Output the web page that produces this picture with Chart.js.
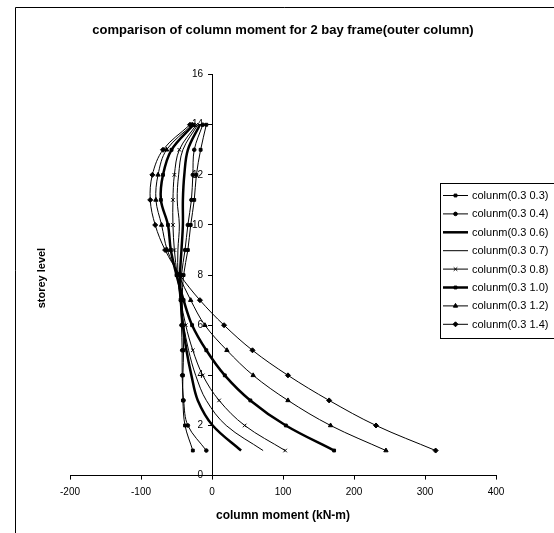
<!DOCTYPE html>
<html><head><meta charset="utf-8">
<script src="https://cdn.jsdelivr.net/npm/chart.js@4.4.1/dist/chart.umd.min.js"></script>
<style>html,body{margin:0;padding:0;background:#fff;}#wrap{position:relative;width:554px;height:533px;}</style>
</head><body><div id="wrap"><canvas id="c" width="554" height="533"></canvas></div>
<script>
const chartTitle = 'comparison of column moment for 2 bay frame(outer column)';
const xTitle = 'column moment (kN-m)';
const yTitle = 'storey level';
const levels = [1,2,3,4,5,6,7,8,9,10,11,12,13,14];
const seriesNames = ['colunm(0.3 0.3)','colunm(0.3 0.4)','colunm(0.3 0.6)','colunm(0.3 0.7)','colunm(0.3 0.8)','colunm(0.3 1.0)','colunm(0.3 1.2)','colunm(0.3 1.4)'];
const s03 = [-27,-38,-41,-41,-40,-41,-42,-40,-34,-30,-25,-22,-16,-8];
const s04 = [-8,-34,-40,-42,-42,-43,-44,-43,-38,-34,-29,-27,-25,-13];
const s06 = [41,1,-20,-29,-36,-41,-44,-45,-43,-41,-41,-39,-34,-17];
const s07 = [72,20,-8,-23,-33,-40,-45,-48,-48,-46,-49,-47,-41,-20];
const s08 = [103,46,10,-13,-27,-37,-44,-49,-53,-55,-55,-53,-46,-22];
const s10 = [172,104,54,18,-8,-28,-40,-50,-58,-62,-72,-69,-57,-26];
const s12 = [245,167,107,58,21,-10,-30,-47,-63,-71,-79,-76,-64,-28];
const s14 = [315,231,165,107,57,17,-17,-45,-66,-80,-87,-84,-69,-31];
const xTicks = [-200,-100,0,100,200,300,400];
const yTicks = [0,2,4,6,8,10,12,14,16];

const seriesValues = [s03,s04,s06,s07,s08,s10,s12,s14];
const styles = [
  {w:1, ps:'rect', r:2},
  {w:1, ps:'circle', r:1.8},
  {w:2.5, ps:'circle', r:0},
  {w:1, ps:'circle', r:0},
  {w:1, ps:'crossRot', r:2.5},
  {w:2.5, ps:'rect', r:2},
  {w:1, ps:'triangle', r:2.5},
  {w:1, ps:'rectRot', r:2.5}
];
Chart.defaults.font.family = 'Arial, "Liberation Sans", sans-serif';
Chart.defaults.color = '#000';

const datasets = seriesValues.map((vals,i)=>({
  label: seriesNames[i],
  data: vals.map((v,j)=>({x:v, y:levels[j]})),
  showLine: true,
  borderColor:'#000', backgroundColor:'#000',
  borderWidth: styles[i].w,
  pointStyle: styles[i].ps,
  pointRadius: styles[i].r,
  pointBorderWidth: 1,
  tension: 0.35
}));

const framePlugin = {
  id:'frame',
  beforeDraw(chart){
    const ctx = chart.ctx; ctx.save();
    ctx.fillStyle='#fff'; ctx.fillRect(0,0,chart.width,chart.height);
    ctx.strokeStyle='#000'; ctx.lineWidth=1;
    ctx.beginPath(); ctx.moveTo(15.5,533); ctx.lineTo(15.5,7.5); ctx.lineTo(554,7.5); ctx.stroke();
    ctx.restore();
    const ys = chart.scales.y;
    const items = ys.getLabelItems(chart.chartArea);
    if (!items._shifted) {
      items.forEach(it => { it.options.translation[0] -= 9; });
      items._shifted = true;
    }
  },
  afterDraw(chart){
    const ctx = chart.ctx; ctx.save();
    const ca = chart.chartArea;
    ctx.font = 'bold 11px Arial, "Liberation Sans", sans-serif';
    ctx.fillStyle='#000'; ctx.textAlign='center'; ctx.textBaseline='middle';
    ctx.translate(41.5,(ca.top+ca.bottom)/2+3); ctx.rotate(-Math.PI/2);
    ctx.fillText(yTitle,0,0);
    ctx.restore();
    ctx.save();
    ctx.fillStyle='#fff'; ctx.fillRect(440.5,183.5,130,155);
    ctx.strokeStyle='#000'; ctx.lineWidth=1; ctx.strokeRect(440.5,183.5,130,155);
    chart.data.datasets.forEach((ds,i)=>{
      const y = 195.5 + i*18.4;
      ctx.beginPath(); ctx.lineWidth=ds.borderWidth; ctx.strokeStyle='#000';
      ctx.moveTo(443,y); ctx.lineTo(468,y); ctx.stroke();
      if (ds.pointRadius>0){
        ctx.fillStyle='#000'; ctx.strokeStyle='#000'; ctx.lineWidth=1;
        Chart.helpers.drawPoint(ctx,{pointStyle:ds.pointStyle,radius:ds.pointRadius,borderWidth:1,rotation:0},455.5,y);
      }
      ctx.fillStyle='#000'; ctx.font='11px Arial, "Liberation Sans", sans-serif';
      ctx.textAlign='left'; ctx.textBaseline='middle';
      ctx.fillText(ds.label,472,y+0.5);
    });
    ctx.restore();
  }
};

new Chart(document.getElementById('c'),{
  type:'scatter',
  data:{datasets},
  options:{
    responsive:false, animation:false,
    layout:{padding:{left:70,right:58,top:8,bottom:10}},
    plugins:{
      legend:{display:false}, tooltip:{enabled:false},
      title:{display:true,text:chartTitle,color:'#000',font:{size:13,weight:'bold'},padding:{top:15,bottom:36}}
    },
    scales:{
      x:{type:'linear',position:'bottom',min:-200,max:400,
        afterBuildTicks:(s)=>{s.ticks = xTicks.map(v=>({value:v}));},
        ticks:{font:{size:10},color:'#000',padding:7,maxRotation:0},
        grid:{drawOnChartArea:false,drawTicks:true,tickLength:4,color:'#000'},
        border:{display:true,color:'#000',width:1},
        title:{display:true,text:xTitle,color:'#000',font:{size:12,weight:'bold'},padding:{top:3,bottom:0}}
      },
      y:{type:'linear',position:{x:0},min:0,max:16,
        afterBuildTicks:(s)=>{s.ticks = yTicks.map(v=>({value:v}));},
        ticks:{font:{size:10},color:'#000',padding:5},
        grid:{drawOnChartArea:false,drawTicks:true,tickLength:4,color:'#000'},
        border:{display:true,color:'#000',width:1}
      }
    }
  },
  plugins:[framePlugin]
});
</script></body></html>
